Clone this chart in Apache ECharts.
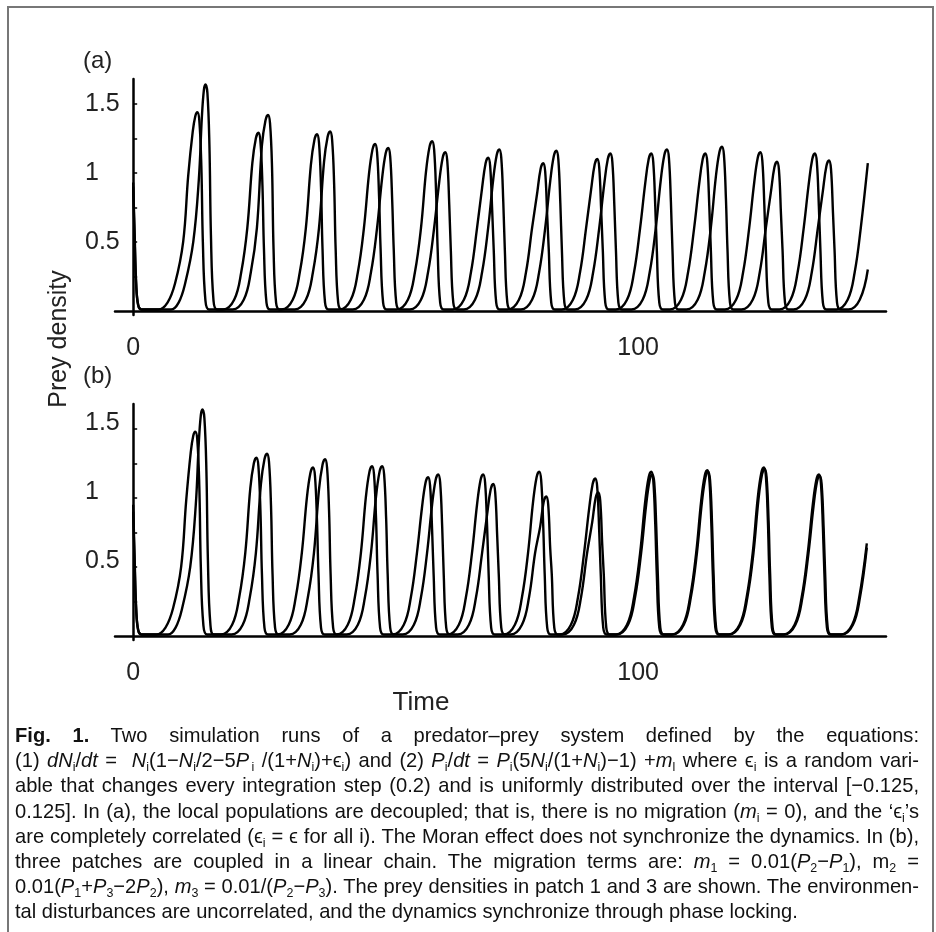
<!DOCTYPE html>
<html><head><meta charset="utf-8">
<script src="https://cdn.jsdelivr.net/npm/echarts@6/dist/echarts.min.js"></script>
<style>
html,body{margin:0;padding:0;background:#fff;}
#wrap{position:relative;width:936px;height:932px;overflow:hidden;}
#chart{position:absolute;left:0;top:0;width:936px;height:932px;}
#cap{position:absolute;left:15px;top:722px;width:1102px;transform-origin:0 0;font-family:"Liberation Sans",Arial,sans-serif;font-size:21px;line-height:25.2px;color:#111;}
#cap div{white-space:nowrap;text-align:left;}
#cap.just div{text-align:justify;text-align-last:justify;}
#cap.just div.last{text-align:left;text-align-last:left;}
#cap sub{font-size:0.62em;line-height:0;vertical-align:-0.28em;}
</style></head>
<body>
<div id="wrap">
<div id="chart"></div>
<div id="cap">
<div><span><b>Fig. 1.</b> Two simulation runs of a predator–prey system defined by the equations:</span></div>
<div><span>(1) <i>dN</i><sub>i</sub>/<i>dt</i> = &nbsp;<i>N</i><sub>i</sub>(1−<i>N</i><sub>i</sub>/2−5<i>P</i><sub>&thinsp;i</sub> /(1+<i>N</i><sub>i</sub>)+ϵ<sub>i</sub>) and (2) <i>P</i><sub>i</sub>/<i>dt</i> = <i>P</i><sub>i</sub>(5<i>N</i><sub>i</sub>/(1+<i>N</i><sub>i</sub>)−1) +<i>m</i><sub>l</sub> where ϵ<sub>i</sub> is a random vari-</span></div>
<div><span>able that changes every integration step (0.2) and is uniformly distributed over the interval [−0.125,</span></div>
<div><span>0.125]. In (a), the local populations are decoupled; that is, there is no migration (<i>m</i><sub>i</sub> = 0), and the ‘ϵ<sub>i</sub>’s</span></div>
<div><span>are completely correlated (ϵ<sub>i</sub> = ϵ for all i). The Moran effect does not synchronize the dynamics. In (b),</span></div>
<div><span>three patches are coupled in a linear chain. The migration terms are: <i>m</i><sub>1</sub> = 0.01(<i>P</i><sub>2</sub>−<i>P</i><sub>1</sub>), m<sub>2</sub> =</span></div>
<div><span>0.01(<i>P</i><sub>1</sub>+<i>P</i><sub>3</sub>−2<i>P</i><sub>2</sub>), <i>m</i><sub>3</sub> = 0.01/(<i>P</i><sub>2</sub>−<i>P</i><sub>3</sub>). The prey densities in patch 1 and 3 are shown. The environmen-</span></div>
<div class="last"><span>tal disturbances are uncorrelated, and the dynamics synchronize through phase locking.</span></div>
</div>
</div>
<script>
// ---- data: [time, prey density] ----
const panelA_patch1 = [
[0,0.93],[0.3,0.55],[0.6,0.2],[1.0,0.04],[1.6,0.01],
[5.0,0.01],[6.8,0.06],[8.3,0.2],[9.9,0.5],[10.9,0.98],[11.8,1.3],[12.3,1.41],[12.7,1.44],[13.1,1.38],[13.5,1.05],[13.8,0.5],[14.3,0.08],[15.0,0.01],
[17.8,0.01],[20.0,0.08],[21.4,0.28],[22.6,0.6],[23.6,1.07],[24.3,1.25],[24.8,1.29],[25.2,1.23],[25.6,0.91],[25.9,0.45],[26.4,0.06],[27.1,0.01],
[29.4,0.01],[31.6,0.08],[33.0,0.28],[34.2,0.6],[35.2,1.06],[35.9,1.24],[36.4,1.28],[36.8,1.22],[37.2,0.90],[37.5,0.45],[38.0,0.06],[38.7,0.01],
[40.9,0.01],[43.1,0.08],[44.5,0.28],[45.7,0.6],[46.7,0.99],[47.4,1.17],[47.9,1.21],[48.3,1.15],[48.7,0.83],[49.0,0.45],[49.5,0.06],[50.2,0.01],
[52.2,0.01],[54.4,0.08],[55.8,0.28],[57.0,0.6],[58.0,1.01],[58.7,1.19],[59.2,1.23],[59.6,1.17],[60.0,0.85],[60.3,0.45],[60.8,0.06],[61.5,0.01],
[63.3,0.01],[65.5,0.08],[66.9,0.28],[68.1,0.6],[69.1,0.89],[69.8,1.07],[70.3,1.11],[70.7,1.05],[71.1,0.73],[71.4,0.45],[71.9,0.06],[72.6,0.01],
[74.2,0.01],[76.4,0.08],[77.8,0.28],[79.0,0.6],[80.0,0.85],[80.7,1.03],[81.2,1.07],[81.6,1.01],[82.0,0.69],[82.3,0.45],[82.8,0.06],[83.5,0.01],
[84.9,0.01],[87.1,0.08],[88.5,0.28],[89.7,0.6],[90.7,0.88],[91.4,1.06],[91.9,1.10],[92.3,1.04],[92.7,0.72],[93.0,0.45],[93.5,0.06],[94.2,0.01],
[95.6,0.01],[97.8,0.08],[99.2,0.28],[100.4,0.6],[101.4,0.92],[102.1,1.10],[102.6,1.14],[103.0,1.08],[103.4,0.76],[103.7,0.45],[104.2,0.06],[104.9,0.01],
[106.3,0.01],[108.5,0.08],[109.9,0.28],[111.1,0.6],[112.1,0.92],[112.8,1.10],[113.3,1.14],[113.7,1.08],[114.1,0.76],[114.4,0.45],[114.9,0.06],[115.6,0.01],
[117.2,0.01],[119.4,0.08],[120.8,0.28],[122.0,0.6],[123.0,0.93],[123.7,1.11],[124.2,1.15],[124.6,1.09],[125.0,0.77],[125.3,0.45],[125.8,0.06],[126.5,0.01],
[128.0,0.01],[130.2,0.08],[131.6,0.28],[132.8,0.6],[133.8,0.92],[134.5,1.10],[135.0,1.14],[135.4,1.08],[135.8,0.76],[136.1,0.45],[136.6,0.06],[137.3,0.01],
[139.3,0.01],[141.5,0.08],[142.9,0.28],[144.1,0.6],[145.5,1.07]
];
const panelA_patch2 = [
[0,0.9],[0.3,0.5],[0.6,0.18],[1.0,0.04],[1.6,0.01],
[7.5,0.01],[9.0,0.06],[10.3,0.2],[11.9,0.5],[13.0,0.95],[13.6,1.4],[14.0,1.6],[14.3,1.64],[14.7,1.58],[15.1,1.2],[15.4,0.55],[15.9,0.08],[16.6,0.01],
[19.7,0.01],[21.9,0.08],[23.3,0.28],[24.5,0.6],[25.5,1.20],[26.2,1.38],[26.7,1.42],[27.1,1.36],[27.5,1.04],[27.8,0.45],[28.3,0.06],[29.0,0.01],
[32.0,0.01],[34.2,0.08],[35.6,0.28],[36.8,0.6],[37.8,1.08],[38.5,1.26],[39.0,1.30],[39.4,1.24],[39.8,0.92],[40.1,0.45],[40.6,0.06],[41.3,0.01],
[43.5,0.01],[45.7,0.08],[47.1,0.28],[48.3,0.6],[49.3,0.96],[50.0,1.14],[50.5,1.18],[50.9,1.12],[51.3,0.80],[51.6,0.45],[52.1,0.06],[52.8,0.01],
[54.8,0.01],[57.0,0.08],[58.4,0.28],[59.6,0.6],[60.6,0.93],[61.3,1.11],[61.8,1.15],[62.2,1.09],[62.6,0.77],[62.9,0.45],[63.4,0.06],[64.1,0.01],
[65.5,0.01],[67.7,0.08],[69.1,0.28],[70.3,0.6],[71.3,0.95],[72.0,1.13],[72.5,1.17],[72.9,1.11],[73.3,0.79],[73.6,0.45],[74.1,0.06],[74.8,0.01],
[76.8,0.01],[79.0,0.08],[80.4,0.28],[81.6,0.6],[82.6,0.94],[83.3,1.12],[83.8,1.16],[84.2,1.10],[84.6,0.78],[84.9,0.45],[85.4,0.06],[86.1,0.01],
[87.5,0.01],[89.7,0.08],[91.1,0.28],[92.3,0.6],[93.3,0.92],[94.0,1.10],[94.5,1.14],[94.9,1.08],[95.3,0.76],[95.6,0.45],[96.1,0.06],[96.8,0.01],
[98.7,0.01],[100.9,0.08],[102.3,0.28],[103.5,0.6],[104.5,0.95],[105.2,1.13],[105.7,1.17],[106.1,1.11],[106.5,0.79],[106.8,0.45],[107.3,0.06],[108.0,0.01],
[109.6,0.01],[111.8,0.08],[113.2,0.28],[114.4,0.6],[115.4,0.97],[116.1,1.15],[116.6,1.19],[117.0,1.13],[117.4,0.81],[117.7,0.45],[118.2,0.06],[118.9,0.01],
[120.5,0.01],[122.7,0.08],[124.1,0.28],[125.3,0.6],[126.3,0.86],[127.0,1.04],[127.5,1.08],[127.9,1.02],[128.3,0.70],[128.6,0.45],[129.1,0.06],[129.8,0.01],
[130.8,0.01],[133.0,0.08],[134.4,0.28],[135.6,0.6],[136.6,0.87],[137.3,1.05],[137.8,1.09],[138.2,1.03],[138.6,0.71],[138.9,0.45],[139.4,0.06],[140.1,0.01],
[141.7,0.01],[143.9,0.08],[145.5,0.3]
];
const panelB_patch1 = [
[0,0.95],[0.3,0.55],[0.6,0.2],[1.0,0.04],[1.6,0.01],
[4.6,0.01],[6.4,0.06],[7.9,0.2],[9.5,0.5],[10.5,0.98],[11.4,1.33],[11.9,1.45],[12.3,1.48],[12.7,1.42],[13.1,1.08],[13.4,0.5],[13.9,0.08],[14.6,0.01],
[17.4,0.01],[19.6,0.08],[21.0,0.28],[22.2,0.6],[23.2,1.07],[23.9,1.25],[24.4,1.29],[24.8,1.23],[25.2,0.91],[25.5,0.45],[26.0,0.06],[26.7,0.01],
[28.6,0.01],[30.8,0.08],[32.2,0.28],[33.4,0.6],[34.4,1.00],[35.1,1.18],[35.6,1.22],[36.0,1.16],[36.4,0.84],[36.7,0.45],[37.2,0.06],[37.9,0.01],
[40.3,0.01],[42.5,0.08],[43.9,0.28],[45.1,0.6],[46.1,1.01],[46.8,1.19],[47.3,1.23],[47.7,1.17],[48.1,0.85],[48.4,0.45],[48.9,0.06],[49.6,0.01],
[51.4,0.01],[53.6,0.08],[55.0,0.28],[56.2,0.6],[57.2,0.93],[57.9,1.11],[58.4,1.15],[58.8,1.09],[59.2,0.77],[59.5,0.45],[60.0,0.06],[60.7,0.01],
[62.3,0.01],[64.5,0.08],[65.9,0.28],[67.1,0.6],[68.1,0.95],[68.8,1.13],[69.3,1.17],[69.7,1.11],[70.1,0.79],[70.4,0.45],[70.9,0.06],[71.6,0.01],
[73.4,0.01],[75.6,0.08],[77.0,0.28],[78.2,0.6],[79.2,0.97],[79.9,1.15],[80.4,1.19],[80.8,1.13],[81.2,0.81],[81.5,0.45],[82.0,0.06],[82.7,0.01],
[84.5,0.01],[86.7,0.08],[88.1,0.28],[89.3,0.6],[90.3,0.92],[91.0,1.10],[91.5,1.14],[91.9,1.08],[92.3,0.76],[92.6,0.45],[93.1,0.06],[93.8,0.01],
[95.6,0.01],[97.8,0.08],[99.2,0.28],[100.4,0.6],[101.4,0.97],[102.1,1.15],[102.6,1.19],[103.0,1.13],[103.4,0.81],[103.7,0.45],[104.2,0.06],[104.9,0.01],
[106.7,0.01],[108.9,0.08],[110.3,0.28],[111.5,0.6],[112.5,0.98],[113.2,1.16],[113.7,1.20],[114.1,1.14],[114.5,0.82],[114.8,0.45],[115.3,0.06],[116.0,0.01],
[117.9,0.01],[120.1,0.08],[121.5,0.28],[122.7,0.6],[123.7,1.00],[124.4,1.18],[124.9,1.22],[125.3,1.16],[125.7,0.84],[126.0,0.45],[126.5,0.06],[127.2,0.01],
[128.8,0.01],[131.0,0.08],[132.4,0.28],[133.6,0.6],[134.6,0.95],[135.3,1.13],[135.8,1.17],[136.2,1.11],[136.6,0.79],[136.9,0.45],[137.4,0.06],[138.1,0.01],
[140.2,0.01],[142.4,0.08],[143.8,0.28],[145.3,0.67]
];
const panelB_patch3 = [
[0,0.9],[0.3,0.5],[0.6,0.18],[1.0,0.04],[1.6,0.01],
[6.9,0.01],[8.4,0.06],[9.7,0.2],[11.3,0.5],[12.4,0.95],[13.0,1.4],[13.4,1.6],[13.7,1.64],[14.1,1.58],[14.5,1.2],[14.8,0.55],[15.3,0.08],[16.0,0.01],
[19.5,0.01],[21.7,0.08],[23.1,0.28],[24.3,0.6],[25.3,1.10],[26.0,1.28],[26.5,1.32],[26.9,1.26],[27.3,0.94],[27.6,0.45],[28.1,0.06],[28.8,0.01],
[31.0,0.01],[33.2,0.08],[34.6,0.28],[35.8,0.6],[36.8,1.06],[37.5,1.24],[38.0,1.28],[38.4,1.22],[38.8,0.90],[39.1,0.45],[39.6,0.06],[40.3,0.01],
[42.3,0.01],[44.5,0.08],[45.9,0.28],[47.1,0.6],[48.1,1.01],[48.8,1.19],[49.3,1.23],[49.7,1.17],[50.1,0.85],[50.4,0.45],[50.9,0.06],[51.6,0.01],
[53.4,0.01],[55.6,0.08],[57.0,0.28],[58.2,0.6],[59.2,0.95],[59.9,1.13],[60.4,1.17],[60.8,1.11],[61.2,0.79],[61.5,0.45],[62.0,0.06],[62.7,0.01],
[64.3,0.01],[66.5,0.08],[67.9,0.28],[69.1,0.6],[70.1,0.88],[70.8,1.06],[71.3,1.10],[71.7,1.04],[72.1,0.72],[72.4,0.45],[72.9,0.06],[73.6,0.01],
[74.8,0.01],[77.0,0.08],[78.4,0.28],[79.6,0.6],[80.6,0.79],[81.3,0.97],[81.8,1.01],[82.2,0.95],[82.6,0.63],[82.9,0.45],[83.4,0.06],[84.1,0.01],
[85.1,0.01],[87.3,0.08],[88.7,0.28],[89.9,0.6],[90.9,0.82],[91.6,1.00],[92.1,1.04],[92.5,0.98],[92.9,0.66],[93.2,0.45],[93.7,0.06],[94.4,0.01],
[95.8,0.01],[98.0,0.08],[99.4,0.28],[100.6,0.6],[101.6,0.95],[102.3,1.13],[102.8,1.17],[103.2,1.11],[103.6,0.79],[103.9,0.45],[104.4,0.06],[105.1,0.01],
[106.85,0.01],[109.05,0.08],[110.45,0.28],[111.65,0.6],[112.65,0.97],[113.35,1.15],[113.85,1.19],[114.25,1.13],[114.65,0.81],[114.95,0.45],[115.45,0.06],[116.15,0.01],
[118.05,0.01],[120.25,0.08],[121.65,0.28],[122.85,0.6],[123.85,0.99],[124.55,1.17],[125.05,1.21],[125.45,1.15],[125.85,0.83],[126.15,0.45],[126.65,0.06],[127.35,0.01],
[128.95,0.01],[131.15,0.08],[132.55,0.28],[133.75,0.6],[134.75,0.94],[135.45,1.12],[135.95,1.16],[136.35,1.10],[136.75,0.78],[137.05,0.45],[137.55,0.06],[138.25,0.01],
[140.35,0.01],[142.55,0.08],[143.95,0.28],[145.3,0.64]
];
const xTickLabels = [0, 100];
const yTickLabels = [0.5, 1, 1.5];
const yTickMarks = [0.25, 0.5, 0.75, 1, 1.25, 1.5];
const panelLabels = ['(a)', '(b)'];
const xTitle = 'Time';
const yTitle = 'Prey density';

const FONT = '"Liberation Sans", Arial, sans-serif';
const chart = echarts.init(document.getElementById('chart'), null, {renderer: 'canvas'});

const grids = [
  {left: 115, top: 79, width: 771, height: 236},
  {left: 115, top: 404, width: 771, height: 236}
];
function xAx(i){
  return {gridIndex: i, type: 'value', min: -3.6, max: 149.1,
    axisLine: {onZero: true, lineStyle: {color: '#000', width: 2.5}},
    axisTick: {show: false},
    axisLabel: {customValues: xTickLabels, fontSize: 25, color: '#222', margin: 21, fontFamily: FONT},
    splitLine: {show: false}};
}
function yAx(i){
  const lab = {customValues: yTickLabels, formatter: v => String(v), align: 'left', margin: 30,
      fontSize: 25, color: '#222', fontFamily: FONT};
  if (i === 1) { lab.verticalAlign = 'bottom'; lab.lineHeight = 12; }
  return {gridIndex: i, type: 'value', min: -0.03, max: 1.68,
    axisLine: {onZero: true, lineStyle: {color: '#000', width: 2.5}},
    axisTick: {customValues: yTickMarks, inside: true, length: 4, lineStyle: {color: '#000', width: 1.5}},
    axisLabel: lab,
    splitLine: {show: false}};
}
function ser(data, i){
  return {type: 'line', xAxisIndex: i, yAxisIndex: i, data: data, showSymbol: false, symbol: 'none',
    smooth: 0.4, lineStyle: {color: '#000', width: 2.4}, silent: true};
}
chart.setOption({
  animation: false,
  grid: grids,
  xAxis: [xAx(0), xAx(1)],
  yAxis: [yAx(0), yAx(1)],
  series: [ser(panelA_patch1, 0), ser(panelA_patch2, 0), ser(panelB_patch1, 1), ser(panelB_patch3, 1)],
  graphic: [
    {type: 'rect', shape: {x: 8, y: 7, width: 925, height: 960}, style: {fill: 'none', stroke: '#777', lineWidth: 2}, silent: true},
    {type: 'text', x: 83, y: 61, style: {text: panelLabels[0], font: '24px ' + FONT, fill: '#222', textVerticalAlign: 'middle'}},
    {type: 'text', x: 83, y: 376, style: {text: panelLabels[1], font: '24px ' + FONT, fill: '#222', textVerticalAlign: 'middle'}},
    {type: 'text', x: 59, y: 339, rotation: Math.PI / 2, style: {text: yTitle, font: '25px ' + FONT, fill: '#222', textAlign: 'center', textVerticalAlign: 'middle'}},
    {type: 'text', x: 421, y: 703, style: {text: xTitle, font: '26px ' + FONT, fill: '#222', textAlign: 'center', textVerticalAlign: 'middle'}}
  ]
});

// fit the justified caption block to the reference column width (15..919 px)
(function(){
  const cap = document.getElementById('cap');
  cap.style.width = '3000px';
  let maxW = 0;
  cap.querySelectorAll('span').forEach(s => { maxW = Math.max(maxW, s.getBoundingClientRect().width); });
  const target = 904;
  const s = Math.min(1, (target - 2) / maxW);
  cap.style.width = (target / s) + 'px';
  cap.style.transform = 'scaleX(' + s + ')';
  cap.classList.add('just');
})();
</script>
</body></html>
